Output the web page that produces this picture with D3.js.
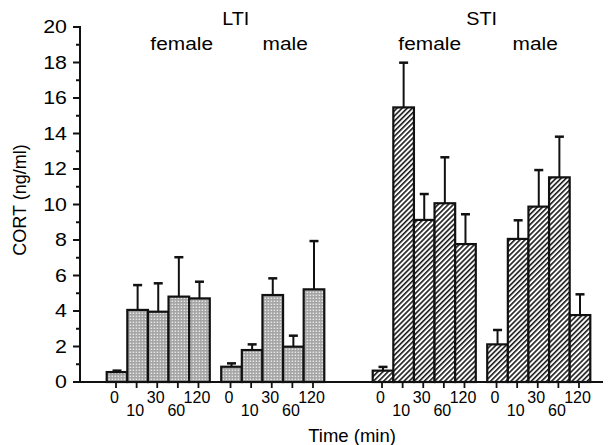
<!DOCTYPE html>
<html>
<head>
<meta charset="utf-8">
<script src="https://cdn.jsdelivr.net/npm/d3@7"></script>
<style>
  html, body { margin: 0; padding: 0; background: #fff; }
  svg text { font-family: "Liberation Sans", Arial, Helvetica, sans-serif; fill: #000; }
</style>
</head>
<body>
<svg id="chart" width="613" height="445"></svg>
<script>
// ---- data ----
const treatments = ["LTI", "STI"];
const sexes = ["female", "male"];
const times = ["0", "10", "30", "60", "120"];
const yTicks = [0, 2, 4, 6, 8, 10, 12, 14, 16, 18, 20];

const ltiFemaleMean = [0.56, 4.06, 3.96, 4.81, 4.71];
const ltiFemaleSem  = [0.08, 1.40, 1.60, 2.22, 0.94];
const ltiMaleMean   = [0.86, 1.80, 4.90, 1.99, 5.22];
const ltiMaleSem    = [0.19, 0.32, 0.94, 0.62, 2.72];
const stiFemaleMean = [0.64, 15.47, 9.13, 10.07, 7.77];
const stiFemaleSem  = [0.21, 2.52, 1.46, 2.59, 1.68];
const stiMaleMean   = [2.12, 8.06, 9.88, 11.53, 3.77];
const stiMaleSem    = [0.81, 1.05, 2.06, 2.29, 1.17];

const groups = [
  { t: "LTI", s: "female", mean: ltiFemaleMean, sem: ltiFemaleSem },
  { t: "LTI", s: "male",   mean: ltiMaleMean,   sem: ltiMaleSem },
  { t: "STI", s: "female", mean: stiFemaleMean, sem: stiFemaleSem },
  { t: "STI", s: "male",   mean: stiMaleMean,   sem: stiMaleSem }
];
const rows = [];
groups.forEach(g => times.forEach((tm, i) => rows.push({ t: g.t, s: g.s, time: tm, mean: g.mean[i], sem: g.sem[i] })));

// ---- layout ----
const svg = d3.select("#chart");
const axisX = 80, baseY = 382, topY = 27;

const y = d3.scaleLinear().domain([0, 20]).range([baseY, topY]);
const xT = d3.scaleBand().domain(treatments).range([106.7, 590.3]).paddingInner(0.182).paddingOuter(0);
const xS = d3.scaleBand().domain(sexes).range([0, xT.bandwidth()]).paddingInner(0.1).paddingOuter(0);
const xTm = d3.scaleBand().domain(times).range([0, xS.bandwidth()]).padding(0);
const barX = d => xT(d.t) + xS(d.s) + xTm(d.time);
const barC = d => barX(d) + xTm.bandwidth() / 2;

// patterns
const defs = svg.append("defs");
const dots = defs.append("pattern").attr("id", "dots").attr("patternUnits", "userSpaceOnUse")
  .attr("width", 3).attr("height", 3);
dots.append("rect").attr("width", 3).attr("height", 3).attr("fill", "#a4a4a4");
dots.append("rect").attr("x", 0.6).attr("y", 0.6).attr("width", 1.5).attr("height", 1.3).attr("fill", "#eeeeee");
const hatch = defs.append("pattern").attr("id", "hatch").attr("patternUnits", "userSpaceOnUse")
  .attr("width", 3.6).attr("height", 3.6).attr("patternTransform", "rotate(45)");
hatch.append("rect").attr("width", 3.6).attr("height", 3.6).attr("fill", "#fff");
hatch.append("line").attr("x1", 0.8).attr("x2", 0.8).attr("y1", 0).attr("y2", 3.6)
  .attr("stroke", "#1a1a1a").attr("stroke-width", 1.6);

function label(sel, x, yy, txt, size, sx, anchor) {
  return sel.append("text")
    .attr("transform", `translate(${x},${yy}) scale(${sx},1)`)
    .attr("text-anchor", anchor || "middle")
    .attr("font-size", size)
    .text(txt);
}

// bars
svg.append("g").selectAll("rect").data(rows).join("rect")
  .attr("x", d => barX(d))
  .attr("y", d => y(d.mean))
  .attr("width", xTm.bandwidth())
  .attr("height", d => y(0) - y(d.mean))
  .attr("fill", d => d.t === "LTI" ? "url(#dots)" : "url(#hatch)")
  .attr("stroke", "#111").attr("stroke-width", 2.2);

// error bars (upper only)
const eb = svg.append("g").attr("stroke", "#111").attr("stroke-width", 2);
eb.selectAll("line.v").data(rows).join("line").attr("class", "v")
  .attr("x1", d => barC(d)).attr("x2", d => barC(d))
  .attr("y1", d => y(d.mean)).attr("y2", d => y(d.mean + d.sem));
eb.selectAll("line.c").data(rows).join("line").attr("class", "c")
  .attr("x1", d => barC(d) - 4.5).attr("x2", d => barC(d) + 4.5)
  .attr("y1", d => y(d.mean + d.sem)).attr("y2", d => y(d.mean + d.sem))
  .attr("stroke-width", 2.5);

// y axis
const yAxis = svg.append("g").attr("stroke", "#111");
yAxis.append("line").attr("x1", axisX).attr("x2", axisX).attr("y1", baseY + 1).attr("y2", y(20) - 1).attr("stroke-width", 2);
const minor = d3.range(1, 20, 2);
yAxis.selectAll("line.maj").data(yTicks).join("line").attr("class", "maj")
  .attr("x1", axisX - 7).attr("x2", axisX).attr("y1", d => y(d)).attr("y2", d => y(d)).attr("stroke-width", 2);
yAxis.selectAll("line.min").data(minor).join("line").attr("class", "min")
  .attr("x1", axisX - 4).attr("x2", axisX).attr("y1", d => y(d)).attr("y2", d => y(d)).attr("stroke-width", 2);
const yl = svg.append("g");
yTicks.forEach(v => label(yl, 67, y(v) + 6.2, String(v), 17.5, 1.22, "end"));

// x baseline and ticks
svg.append("line").attr("x1", axisX).attr("x2", 603).attr("y1", baseY).attr("y2", baseY)
  .attr("stroke", "#111").attr("stroke-width", 2);
svg.append("g").selectAll("line").data(rows).join("line")
  .attr("x1", d => barC(d) - 1).attr("x2", d => barC(d) - 1)
  .attr("y1", baseY).attr("y2", baseY + 6)
  .attr("stroke", "#111").attr("stroke-width", 1.8);
const xl = svg.append("g");
rows.forEach(d => {
  const upper = (d.time === "0" || d.time === "30" || d.time === "120");
  label(xl, barC(d) - 2.5, upper ? 403 : 416, d.time, 16, 1.0, "middle");
});

// group labels
const hdr = svg.append("g");
label(hdr, xT("LTI") + 129, 25, "LTI", 18, 1.1);
label(hdr, xT("STI") + 109, 25, "STI", 18, 1.1);
label(hdr, xT("LTI") + 75, 50, "female", 18.5, 1.13);
label(hdr, xT("LTI") + xS("male") + 64, 50, "male", 18.5, 1.13);
label(hdr, xT("STI") + 57, 50, "female", 18.5, 1.13);
label(hdr, xT("STI") + xS("male") + 48, 50, "male", 18.5, 1.13);

// axis titles
label(svg, 352, 442, "Time (min)", 18.5, 1.0);
svg.append("text")
  .attr("transform", "translate(26,200) rotate(-90)")
  .attr("text-anchor", "middle").attr("font-size", 18)
  .text("CORT (ng/ml)");
</script>
</body>
</html>
